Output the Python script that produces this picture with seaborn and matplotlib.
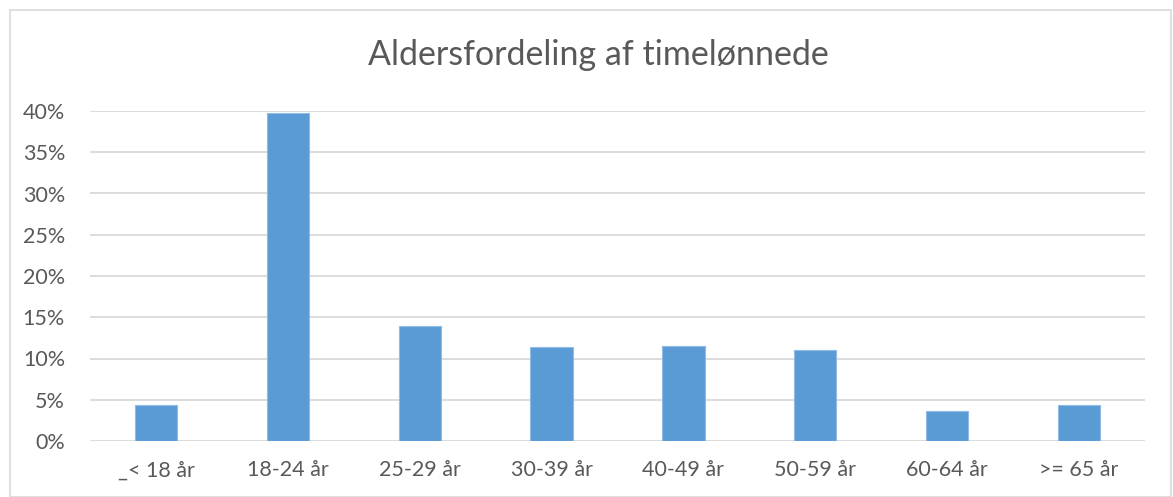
import matplotlib
matplotlib.use("Agg")
import matplotlib.pyplot as plt
import seaborn as sns
import pandas as pd
from matplotlib.ticker import PercentFormatter, MultipleLocator
from matplotlib.patches import Rectangle

categories = ["_< 18 år", "18-24 år", "25-29 år", "30-39 år", "40-49 år", "50-59 år", "60-64 år", ">= 65 år"]
values = [0.044, 0.398, 0.139, 0.114, 0.115, 0.110, 0.036, 0.044]
title = "Aldersfordeling af timelønnede"

sns.set_theme(style="white")
plt.rcParams['font.family'] = ['Lato', 'DejaVu Sans']

df = pd.DataFrame({"cat": categories, "val": values})

fig = plt.figure(figsize=(11.73, 4.97), dpi=100)
ax = fig.add_axes([90/1173, 1-441/497, (1145-90)/1173, (441-111)/497])

sns.barplot(data=df, x="cat", y="val", color="#5b9bd5", saturation=1, width=0.32, ax=ax, zorder=3)
for p in ax.patches:
    p.set_edgecolor("#8fbce6")
    p.set_linewidth(0.8)

ax.set_ylim(0, 0.40)
ax.set_xlim(-0.5, len(categories) - 0.5)
ax.yaxis.set_major_locator(MultipleLocator(0.05))
ax.yaxis.set_major_formatter(PercentFormatter(1.0, decimals=0))
ax.grid(axis="y", color="#d9d9d9", linewidth=1.3, zorder=0)
ax.set_axisbelow(True)
for s in ax.spines.values():
    s.set_visible(False)
ax.set_xlabel("")
ax.set_ylabel("")
ax.tick_params(axis="both", length=0, labelsize=15.5, colors="#595959")
ax.tick_params(axis="y", pad=18)
ax.tick_params(axis="x", pad=14)

fig.text(598/1173, 1-55/497, title, ha="center", va="center", fontsize=24.5, color="#595959")

fig.patches.append(Rectangle((10/1173, 0), (1171-10)/1173, 1-10/497, transform=fig.transFigure,
                             fill=False, edgecolor="#d9d9d9", linewidth=1.2))

fig.savefig("out.png", dpi=100)
